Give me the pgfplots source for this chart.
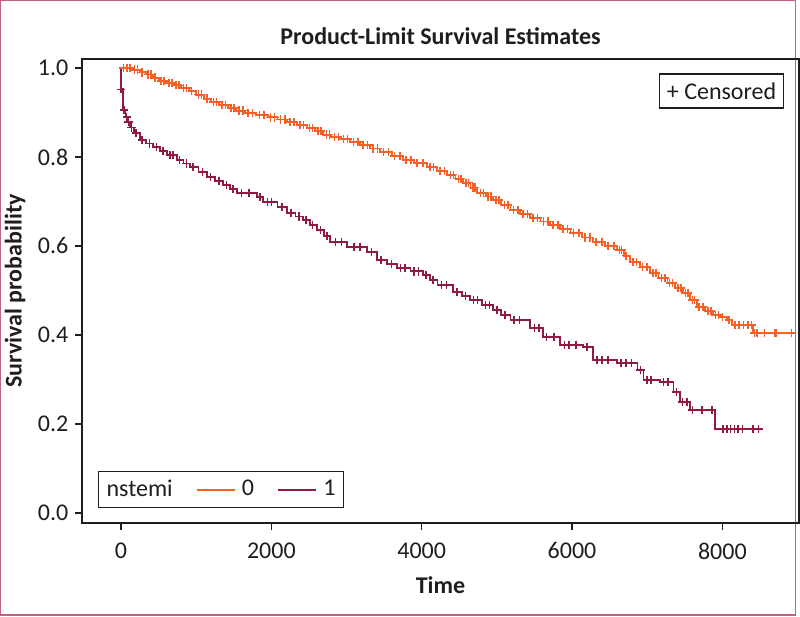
\documentclass[border=0pt]{standalone}
\usepackage{fontspec}
\setmainfont{Carlito}
\usepackage{pgfplots}
\usepackage{pgfplotstable}
\pgfplotsset{compat=1.18}
\definecolor{orng}{RGB}{245,96,38}
\definecolor{purp}{RGB}{145,26,66}
\definecolor{pinkb}{RGB}{196,96,128}
\definecolor{txt}{RGB}{30,30,30}

\pgfplotstableread{
x y
0 1.000
150 0.996
250 0.990
330 0.985
420 0.978
500 0.971
600 0.966
700 0.961
800 0.955
900 0.948
1000 0.940
1100 0.931
1200 0.923
1300 0.917
1420 0.910
1530 0.904
1650 0.898
1800 0.894
1950 0.889
2080 0.884
2210 0.879
2340 0.872
2470 0.865
2580 0.858
2690 0.850
2800 0.845
2920 0.840
3050 0.834
3180 0.827
3310 0.819
3450 0.811
3600 0.802
3750 0.793
3900 0.786
4070 0.778
4200 0.769
4340 0.760
4450 0.751
4550 0.742
4650 0.731
4740 0.719
4850 0.711
4950 0.703
5060 0.692
5180 0.681
5310 0.672
5440 0.663
5580 0.655
5710 0.647
5840 0.638
5980 0.629
6130 0.619
6280 0.609
6440 0.600
6600 0.591
6690 0.578
6770 0.564
6900 0.552
7040 0.539
7150 0.528
7270 0.517
7370 0.506
7480 0.494
7570 0.479
7660 0.463
7770 0.454
7880 0.445
7970 0.440
8060 0.434
8130 0.422
8410 0.404
8940 0.404
}\grpzero

\pgfplotstableread{
x y
30 1.000
80 1.000
120 1.000
180 0.996
220 0.996
280 0.990
360 0.985
400 0.985
450 0.978
530 0.971
570 0.971
640 0.966
680 0.966
730 0.961
770 0.961
830 0.955
870 0.955
940 0.948
1030 0.940
1070 0.940
1140 0.931
1230 0.923
1270 0.923
1340 0.917
1390 0.917
1460 0.910
1500 0.910
1570 0.904
1620 0.904
1690 0.898
1750 0.898
1840 0.894
1900 0.894
1990 0.889
2040 0.889
2120 0.884
2180 0.884
2250 0.879
2300 0.879
2380 0.872
2430 0.872
2510 0.865
2550 0.865
2620 0.858
2660 0.858
2730 0.850
2770 0.850
2840 0.845
2890 0.845
2960 0.840
3010 0.840
3090 0.834
3150 0.834
3220 0.827
3280 0.827
3350 0.819
3410 0.819
3490 0.811
3560 0.811
3640 0.802
3710 0.802
3790 0.793
3860 0.793
3940 0.786
4020 0.786
4110 0.778
4160 0.778
4240 0.769
4300 0.769
4380 0.760
4420 0.760
4490 0.751
4520 0.751
4590 0.742
4620 0.742
4680 0.731
4710 0.731
4780 0.719
4820 0.719
4880 0.711
4920 0.711
4990 0.703
5030 0.703
5100 0.692
5150 0.692
5220 0.681
5280 0.681
5350 0.672
5410 0.672
5480 0.663
5540 0.663
5620 0.655
5680 0.655
5750 0.647
5810 0.647
5880 0.638
5940 0.638
6020 0.629
6090 0.629
6170 0.619
6240 0.619
6320 0.609
6400 0.609
6480 0.600
6560 0.600
6630 0.591
6660 0.591
6720 0.578
6810 0.564
6860 0.564
6940 0.552
7000 0.552
7080 0.539
7120 0.539
7190 0.528
7240 0.528
7300 0.517
7340 0.517
7410 0.506
7450 0.506
7510 0.494
7540 0.494
7600 0.479
7630 0.479
7690 0.463
7740 0.463
7810 0.454
7850 0.454
7910 0.445
7950 0.445
8000 0.440
8090 0.434
8170 0.422
8220 0.422
8280 0.422
8340 0.422
8390 0.422
8430 0.404
8460 0.404
8560 0.404
8700 0.404
8720 0.404
8920 0.404
}\cenzero

\pgfplotstableread{
x y
0 1.000
1 0.952
30 0.905
60 0.890
90 0.879
120 0.866
170 0.854
250 0.838
330 0.830
430 0.822
520 0.813
610 0.804
740 0.793
830 0.785
920 0.778
1030 0.766
1140 0.755
1250 0.746
1360 0.737
1450 0.728
1540 0.719
1810 0.710
1890 0.699
2080 0.688
2210 0.674
2320 0.666
2420 0.658
2510 0.647
2610 0.636
2700 0.622
2780 0.609
3010 0.598
3270 0.587
3410 0.569
3540 0.560
3670 0.551
3850 0.543
4020 0.535
4110 0.524
4210 0.512
4420 0.497
4540 0.488
4640 0.479
4800 0.467
4950 0.456
5060 0.445
5180 0.434
5440 0.416
5610 0.396
5840 0.378
6150 0.373
6280 0.344
6600 0.337
6870 0.321
6950 0.299
7170 0.294
7350 0.272
7440 0.249
7570 0.231
7900 0.189
8530 0.189
}\grpone

\pgfplotstableread{
x y
0 0.952
40 0.905
75 0.890
100 0.879
140 0.866
200 0.854
280 0.838
380 0.830
470 0.822
560 0.813
650 0.804
690 0.804
780 0.793
870 0.785
960 0.778
1080 0.766
1190 0.755
1300 0.746
1400 0.737
1490 0.728
1600 0.719
1700 0.719
1850 0.710
1950 0.699
2000 0.699
2140 0.688
2260 0.674
2370 0.666
2460 0.658
2550 0.647
2650 0.636
2740 0.622
2850 0.609
2930 0.609
3100 0.598
3180 0.598
3330 0.587
3460 0.569
3600 0.560
3720 0.551
3780 0.551
3900 0.543
3960 0.543
4060 0.535
4150 0.524
4260 0.512
4330 0.512
4470 0.497
4580 0.488
4690 0.479
4740 0.479
4850 0.467
4900 0.467
5000 0.456
5110 0.445
5230 0.434
5300 0.434
5500 0.416
5560 0.416
5660 0.396
5760 0.396
5900 0.378
5960 0.378
6050 0.378
6200 0.373
6330 0.344
6400 0.344
6480 0.344
6650 0.337
6720 0.337
6790 0.337
6910 0.321
7000 0.299
7050 0.299
7220 0.294
7280 0.294
7390 0.272
7470 0.249
7530 0.249
7600 0.231
7730 0.231
7860 0.231
8010 0.189
8060 0.189
8110 0.189
8160 0.189
8210 0.189
8270 0.189
8410 0.189
8480 0.189
}\cenone

\begin{document}
\begin{tikzpicture}
\path[use as bounding box] (0,0) rectangle (400pt,308.5pt);
\draw[pinkb, line width=0.6pt] (0.3pt,1pt) rectangle (397.6pt,308.2pt);
\begin{axis}[
  at={(41pt,47pt)}, anchor=south west,
  scale only axis, width=358.5pt, height=232pt,
  xmin=-520, xmax=9020, ymin=-0.0225, ymax=1.02,
  xtick={0,2000,4000,6000,8000},
  ytick={0,0.2,0.4,0.6,0.8,1.0},
  tick align=outside, tick pos=left,
  major tick length=3.3pt,
  every tick/.style={txt, line width=0.6pt},
  axis line style={draw=txt, line width=0.6pt},
  /pgf/number format/assume math mode=true,
  /pgf/number format/1000 sep={},
  yticklabel style={/pgf/number format/fixed, /pgf/number format/fixed zerofill, /pgf/number format/precision=1},
  xticklabel style={yshift=-3pt},
  tick label style={font=\fontsize{12}{14}\selectfont, text=txt},
  label style={font=\fontsize{12}{14}\selectfont\bfseries, text=txt},
  xlabel={Time}, ylabel={Survival probability},
  xlabel style={at={([yshift=-31pt]axis description cs:0.5,0)}, anchor=center},
  ylabel style={at={([xshift=-33.5pt]axis description cs:0,0.5)}, anchor=center},
  title={Product-Limit Survival Estimates},
  title style={at={([yshift=5.5pt]axis description cs:0.5,1)}, anchor=center, font=\fontsize{12}{14}\selectfont\bfseries, text=txt},
  legend columns=3,
  legend style={at={(axis description cs:0,0)}, anchor=south west, xshift=8pt, yshift=7.5pt,
    draw=txt, line width=0.6pt, font=\fontsize{12}{14}\selectfont, text=txt,
    inner xsep=2pt, inner ysep=2pt,
    /tikz/every even column/.append style={column sep=9.5pt}},
]
\addlegendimage{empty legend}
\addlegendentry{nstemi}
\addplot[const plot, color=orng, line width=0.9pt,
  legend image code/.code={\pgfsetstrokecolor{orng}\pgfsetlinewidth{1.1pt}\pgfpathmoveto{\pgfpointorigin}\pgfpathlineto{\pgfpoint{19pt}{0pt}}\pgfusepath{stroke}\path (20pt,0pt);}]
  table[x=x,y=y] {\grpzero};
\addlegendentry{0}
\addplot[const plot, color=purp, line width=0.9pt,
  legend image code/.code={\pgfsetstrokecolor{purp}\pgfsetlinewidth{1.1pt}\pgfpathmoveto{\pgfpointorigin}\pgfpathlineto{\pgfpoint{19pt}{0pt}}\pgfusepath{stroke}\path (20pt,0pt);}]
  table[x=x,y=y] {\grpone};
\addlegendentry{1}
\addplot[only marks, mark=+, mark size=2.1pt, color=orng, mark options={line width=0.75pt}, forget plot] table[x=x,y=y] {\cenzero};
\addplot[only marks, mark=+, mark size=2.1pt, color=purp, mark options={line width=0.75pt}, forget plot] table[x=x,y=y] {\cenone};
\node[draw=txt, line width=0.6pt, font=\fontsize{12}{14}\selectfont, text=txt, minimum height=17pt, inner xsep=3.5pt, anchor=center] at (rel axis cs:0.892,0.931) {+ Censored};
\end{axis}
\end{tikzpicture}
\end{document}
